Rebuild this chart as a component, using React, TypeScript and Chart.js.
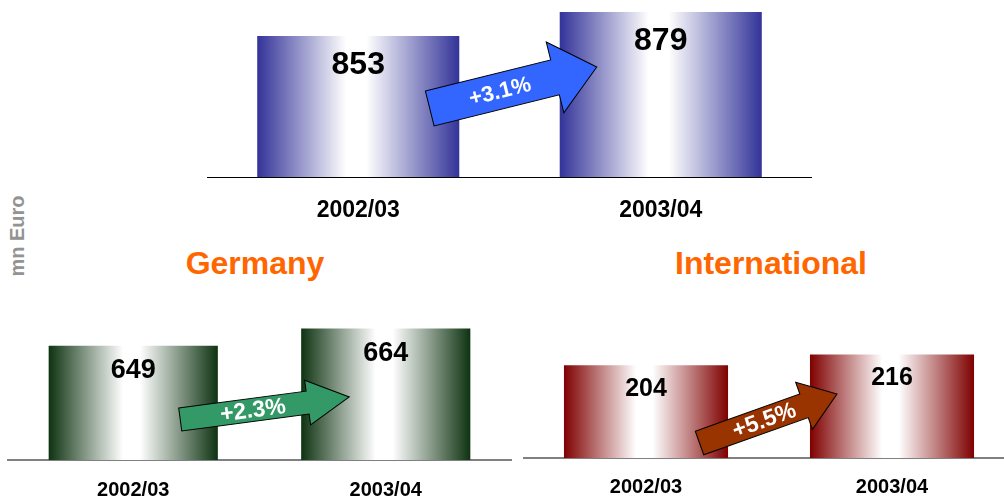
import React, { useEffect, useRef } from "react";
import { Chart, registerables } from "chart.js";
Chart.register(...registerables);

// ---- data ----
const periods = ["2002/03", "2003/04"];
const totalValues = [853, 879];
const germanyValues = [649, 664];
const internationalValues = [204, 216];
const totalGrowth = "+3.1%";
const germanyGrowth = "+2.3%";
const internationalGrowth = "+5.5%";
const unitLabel = "mn Euro";
const germanyTitle = "Germany";
const internationalTitle = "International";

const FONT = "'Liberation Sans', Arial, Helvetica, sans-serif";

type ArrowSpec = {
  tail: [number, number]; // dx from bar1 centre, dy above base
  tip: [number, number]; // dx from bar2 centre, dy above base
  shaft: number;
  head: number;
  headLen: number;
  textT: number;
  textSize: number;
  color: string;
};

type Panel = {
  values: number[];
  growth: string;
  left: number;
  top: number;
  width: number;
  areaHeight: number;
  axisHeight: number;
  yMin: number;
  yMax: number;
  dark: string;
  barPct: number;
  axisColor: string;
  axisWidth: number;
  valueFont: number;
  valueOffset: number;
  tickFont: number;
  tickPadding: number;
  arrow: ArrowSpec;
};

const panels: Panel[] = [
  {
    values: totalValues,
    growth: totalGrowth,
    left: 207,
    top: 11,
    width: 605,
    areaHeight: 166,
    axisHeight: 50,
    yMin: 700,
    yMax: 880,
    dark: "#333399",
    barPct: 0.668,
    axisColor: "#000000",
    axisWidth: 1,
    valueFont: 32,
    valueOffset: 29.5,
    tickFont: 23,
    tickPadding: 20,
    arrow: {
      tail: [71.5, 68.5],
      tip: [-64, 110],
      shaft: 36,
      head: 73,
      headLen: 43,
      textT: 0.42,
      textSize: 22,
      color: "#3366FF",
    },
  },
  {
    values: germanyValues,
    growth: germanyGrowth,
    left: 7,
    top: 310,
    width: 505,
    areaHeight: 150,
    axisHeight: 45,
    yMin: 550,
    yMax: 680,
    dark: "#0E3311",
    barPct: 0.67,
    axisColor: "#808080",
    axisWidth: 2,
    valueFont: 27,
    valueOffset: 25,
    tickFont: 20,
    tickPadding: 18,
    arrow: {
      tail: [47, 40.5],
      tip: [-36.5, 63],
      shaft: 23,
      head: 45,
      headLen: 42,
      textT: 0.43,
      textSize: 23,
      color: "#339966",
    },
  },
  {
    values: internationalValues,
    growth: internationalGrowth,
    left: 523,
    top: 333,
    width: 492,
    areaHeight: 125,
    axisHeight: 45,
    yMin: 100,
    yMax: 240,
    dark: "#7F0000",
    barPct: 0.667,
    axisColor: "#808080",
    axisWidth: 2,
    valueFont: 25,
    valueOffset: 24,
    tickFont: 20,
    tickPadding: 17,
    arrow: {
      tail: [53.5, 15],
      tip: [-55, 64],
      shaft: 25,
      head: 50,
      headLen: 35,
      textT: 0.47,
      textSize: 23,
      color: "#993300",
    },
  },
];

function gradientFor(p: Panel) {
  return (c: any) => {
    const chart = c.chart;
    const xs = chart?.scales?.x;
    if (!xs || c.dataIndex === undefined || !isFinite(xs.width)) return p.dark;
    const center = xs.getPixelForValue(c.dataIndex);
    const n = (chart.data.labels || []).length || 1;
    const w = (xs.width / n) * p.barPct;
    if (!isFinite(center) || !isFinite(w) || w <= 0) return p.dark;
    const g = chart.ctx.createLinearGradient(center - w / 2, 0, center + w / 2, 0);
    g.addColorStop(0, p.dark);
    g.addColorStop(0.44, "#FFFFFF");
    g.addColorStop(0.54, "#FFFFFF");
    g.addColorStop(1, p.dark);
    return g;
  };
}

function overlayPlugin(p: Panel) {
  return {
    id: "overlay",
    afterDatasetsDraw(chart: any) {
      const ctx = chart.ctx as CanvasRenderingContext2D;
      const meta = chart.getDatasetMeta(0);
      const b1 = meta.data[0];
      const b2 = meta.data[1];
      if (!b1 || !b2) return;
      const base = chart.chartArea.bottom;
      const a = p.arrow;
      const tx = b1.x + a.tail[0];
      const ty = base - a.tail[1];
      const hx = b2.x + a.tip[0];
      const hy = base - a.tip[1];
      const dx = hx - tx;
      const dy = hy - ty;
      const len = Math.sqrt(dx * dx + dy * dy);
      const ang = Math.atan2(dy, dx);
      ctx.save();
      ctx.translate(tx, ty);
      ctx.rotate(ang);
      const sw = a.shaft / 2;
      const hw = a.head / 2;
      const bx = len - a.headLen;
      ctx.beginPath();
      ctx.moveTo(0, -sw);
      ctx.lineTo(bx, -sw);
      ctx.lineTo(bx, -hw);
      ctx.lineTo(len, 0);
      ctx.lineTo(bx, hw);
      ctx.lineTo(bx, sw);
      ctx.lineTo(0, sw);
      ctx.closePath();
      ctx.fillStyle = a.color;
      ctx.fill();
      ctx.lineWidth = 1;
      ctx.strokeStyle = "#000000";
      ctx.stroke();
      ctx.fillStyle = "#FFFFFF";
      ctx.font = `bold ${a.textSize}px ${FONT}`;
      ctx.textAlign = "center";
      ctx.textBaseline = "middle";
      ctx.fillText(p.growth, len * a.textT, 1);
      ctx.restore();

      // value labels
      ctx.save();
      ctx.fillStyle = "#000000";
      ctx.font = `bold ${p.valueFont}px ${FONT}`;
      ctx.textAlign = "center";
      ctx.textBaseline = "middle";
      meta.data.forEach((el: any, i: number) => {
        ctx.fillText(String(p.values[i]), el.x, el.y + p.valueOffset);
      });
      ctx.restore();
    },
  };
}

function BarPanel({ p }: { p: Panel }) {
  const ref = useRef<HTMLCanvasElement | null>(null);
  const height = p.areaHeight + p.axisHeight;
  useEffect(() => {
    if (!ref.current) return;
    const chart = new Chart(ref.current, {
      type: "bar",
      data: {
        labels: periods,
        datasets: [
          {
            data: p.values,
            backgroundColor: gradientFor(p) as any,
            borderWidth: 0,
            barPercentage: p.barPct,
            categoryPercentage: 1,
          },
        ],
      },
      options: {
        responsive: false,
        animation: false,
        devicePixelRatio: 1,
        events: [],
        layout: { padding: 0 },
        plugins: {
          legend: { display: false },
          tooltip: { enabled: false },
          title: { display: false },
        },
        scales: {
          x: {
            offset: true,
            grid: { display: false, drawTicks: false, tickLength: 0 },
            border: { display: true, color: p.axisColor, width: p.axisWidth },
            ticks: {
              color: "#000000",
              padding: p.tickPadding,
              font: { family: FONT, size: p.tickFont, weight: "bold" },
              maxRotation: 0,
              autoSkip: false,
            },
            afterFit: (s: any) => {
              s.height = p.axisHeight;
            },
          },
          y: {
            display: false,
            min: p.yMin,
            max: p.yMax,
          },
        },
      },
      plugins: [overlayPlugin(p)],
    } as any);
    return () => chart.destroy();
  }, [p]);
  return (
    <canvas
      ref={ref}
      width={p.width}
      height={height}
      style={{
        position: "absolute",
        left: p.left,
        top: p.top,
        width: p.width,
        height,
      }}
    />
  );
}

export default function App() {
  return (
    <div
      style={{
        position: "absolute",
        left: 0,
        top: 0,
        width: 1004,
        height: 501,
        overflow: "hidden",
        background: "#FFFFFF",
        fontFamily: FONT,
      }}
    >
      {panels.map((p, i) => (
        <BarPanel key={i} p={p} />
      ))}
      <div
        style={{
          position: "absolute",
          left: 255,
          top: 263,
          transform: "translate(-50%, -50%)",
          color: "#FF6600",
          fontWeight: "bold",
          fontSize: 32,
          whiteSpace: "nowrap",
          lineHeight: 1,
        }}
      >
        {germanyTitle}
      </div>
      <div
        style={{
          position: "absolute",
          left: 771,
          top: 263,
          transform: "translate(-50%, -50%)",
          color: "#FF6600",
          fontWeight: "bold",
          fontSize: 32,
          whiteSpace: "nowrap",
          lineHeight: 1,
        }}
      >
        {internationalTitle}
      </div>
      <div
        style={{
          position: "absolute",
          left: 17,
          top: 236,
          transform: "translate(-50%, -50%) rotate(-90deg)",
          color: "#939393",
          fontWeight: "bold",
          fontSize: 20,
          whiteSpace: "nowrap",
          lineHeight: 1,
        }}
      >
        {unitLabel}
      </div>
    </div>
  );
}
